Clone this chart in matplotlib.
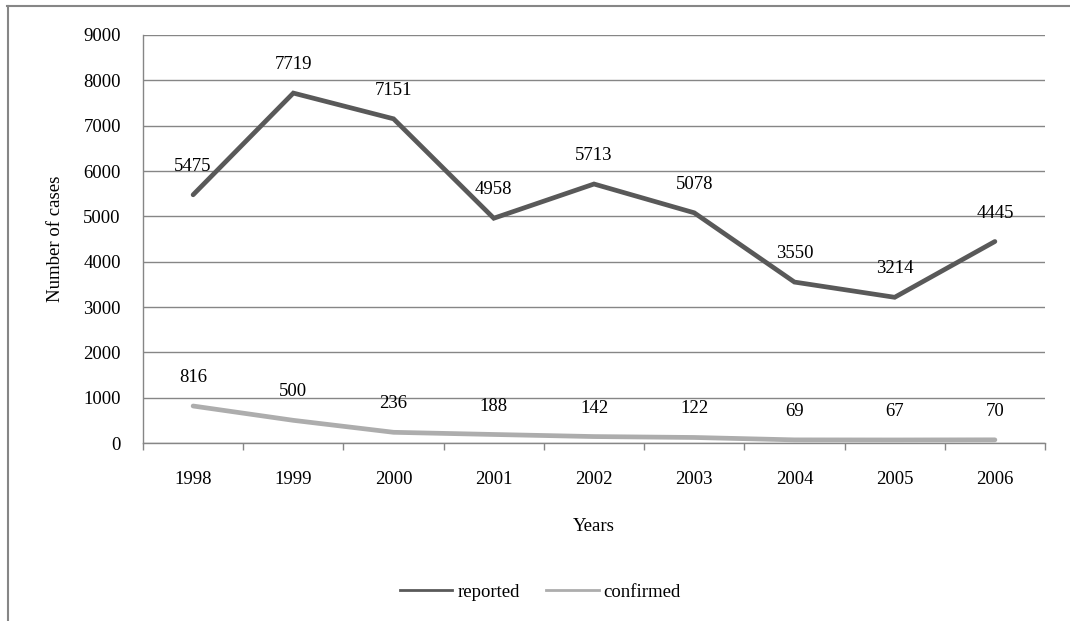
import matplotlib.pyplot as plt
import numpy as np
from matplotlib.lines import Line2D

plt.rcParams['font.family'] = ['Liberation Serif', 'DejaVu Serif']

# Data
years = ['1998', '1999', '2000', '2001', '2002', '2003', '2004', '2005', '2006']
reported = [5475, 7719, 7151, 4958, 5713, 5078, 3550, 3214, 4445]
confirmed = [816, 500, 236, 188, 142, 122, 69, 67, 70]

grey = '#868686'
dark = '#595959'
light = '#ADADAD'
fs = 13.5
x = np.arange(len(years))

fig = plt.figure(figsize=(10.7, 6.21), dpi=100)
ax = fig.add_axes([143/1070, 1-443/621, (1045-143)/1070, (443-35)/621])

ax.plot(x, reported, color=dark, linewidth=3.4, solid_capstyle='round', solid_joinstyle='miter')
ax.plot(x, confirmed, color=light, linewidth=3.4, solid_capstyle='round', solid_joinstyle='miter')

for xi, v in zip(x, reported):
    ax.annotate(str(v), (xi, v), xytext=(0, 20.5), textcoords='offset points',
                ha='center', va='center', fontsize=fs)
for xi, v in zip(x, confirmed):
    ax.annotate(str(v), (xi, v), xytext=(0, 20.5), textcoords='offset points',
                ha='center', va='center', fontsize=fs)

ax.set_xlim(-0.5, len(years) - 0.5)
ax.set_ylim(0, 9000)
ax.set_yticks(np.arange(0, 9001, 1000))
ax.set_xticks(x)
ax.set_xticklabels(years)
ax.set_xticks(np.arange(-0.5, len(years), 1), minor=True)
ax.tick_params(axis='x', which='major', length=0, pad=20, labelsize=fs)
ax.tick_params(axis='x', which='minor', length=5, color=grey, width=1)
ax.tick_params(axis='y', length=0, pad=16, labelsize=fs)

ax.grid(axis='y', color=grey, linewidth=1)
ax.set_axisbelow(True)
for s in ['top', 'right']:
    ax.spines[s].set_visible(False)
for s in ['left', 'bottom']:
    ax.spines[s].set_color(grey)
    ax.spines[s].set_linewidth(1)

ax.set_ylabel('Number of cases', fontsize=fs, labelpad=14)
ax.set_xlabel('Years', fontsize=fs, labelpad=22)

handles = [Line2D([], [], color=dark, linewidth=2), Line2D([], [], color=light, linewidth=2)]
fig.legend(handles, ['reported', 'confirmed'], loc='center', bbox_to_anchor=(0.505, 1-592/621),
           ncol=2, frameon=False, fontsize=fs, handlelength=2.8, handletextpad=0.27,
           columnspacing=1.4)

# Outer frame (only top and left visible)
fig.add_artist(Line2D([7/1070, 1], [1-6/621, 1-6/621], color=grey, linewidth=1.5,
                      transform=fig.transFigure))
fig.add_artist(Line2D([8/1070, 8/1070], [1-6/621, 0], color=grey, linewidth=1.5,
                      transform=fig.transFigure))

plt.savefig('out.png', dpi=100)
